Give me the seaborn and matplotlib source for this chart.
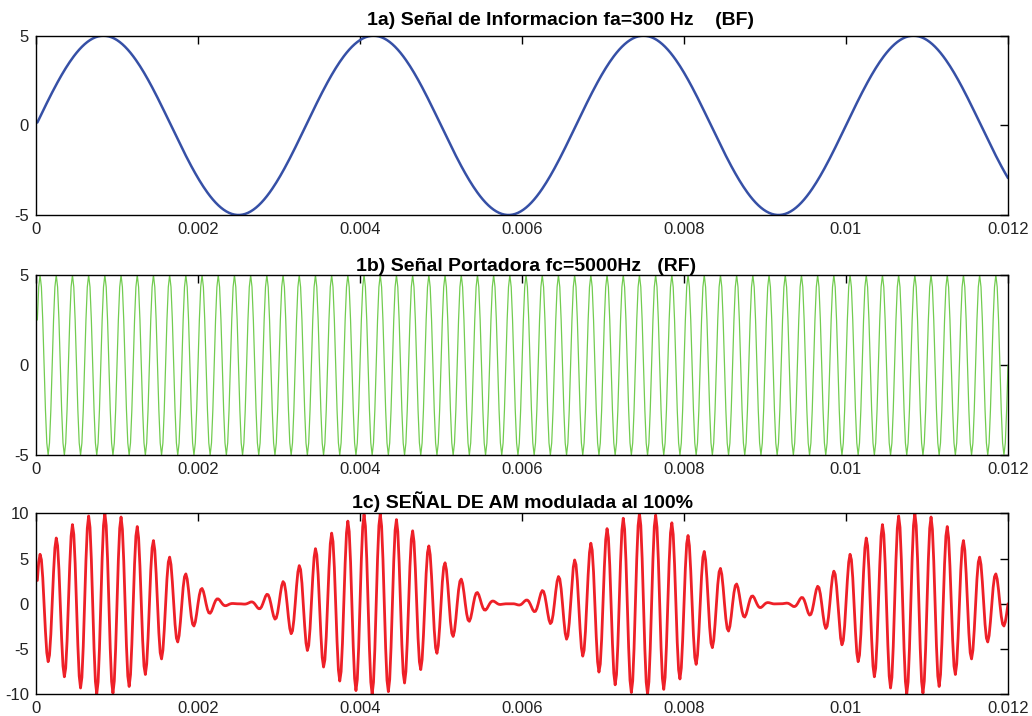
import numpy as np
import pandas as pd
import seaborn as sns
import matplotlib.pyplot as plt

fa = 300          # Hz, information signal (BF)
fc = 5000         # Hz, carrier (RF)
amp_info = 5      # amplitude of information signal
amp_carrier = 5   # amplitude of carrier
fs = 60000        # sampling rate of the plotted vectors
t_end = 0.012     # s

x_ticks = [0, 0.002, 0.004, 0.006, 0.008, 0.01, 0.012]
x_tick_labels = ["0", "0.002", "0.004", "0.006", "0.008", "0.01", "0.012"]
y_ticks_bf = [-5, 0, 5]
y_ticks_am = [-10, -5, 0, 5, 10]

titles = [
    "1a) Señal de Informacion fa=300 Hz    (BF)",
    "1b) Señal Portadora fc=5000Hz   (RF)",
    "1c) SEÑAL DE AM modulada al 100%",
]

# time vector and signals
t = np.arange(1, int(round(t_end * fs)) + 1) / fs
info = amp_info * np.sin(2 * np.pi * fa * t)
carrier = amp_carrier * np.sin(2 * np.pi * fc * t)
am = (amp_carrier + info) * np.sin(2 * np.pi * fc * t)

df = pd.DataFrame({"t": t, "info": info, "carrier": carrier, "am": am})

sns.set_style("white")
plt.rcParams['font.family'] = ['Liberation Sans', 'DejaVu Sans']
plt.rcParams['axes.unicode_minus'] = False

fig = plt.figure(figsize=(10.32, 7.16), dpi=100)
W, H = 1032, 716
left, right = 36, 1008
boxes = [(35.7, 215), (275, 455), (513.3, 694.3)]
axes = [fig.add_axes([left / W, 1 - b / H, (right - left) / W, (b - tp) / H]) for tp, b in boxes]

sns.lineplot(data=df, x="t", y="info", ax=axes[0], color="#3650A6", linewidth=1.8)
sns.lineplot(data=df, x="t", y="carrier", ax=axes[1], color="#72CC50", linewidth=0.9)
sns.lineplot(data=df, x="t", y="am", ax=axes[2], color="#EE2028", linewidth=2.0)

ylims = [(-5, 5), (-5, 5), (-10, 10)]
yticks = [y_ticks_bf, y_ticks_bf, y_ticks_am]
title_x = [0.540, 0.504, 0.500]
title_pad = [8, 3, 4]

for ax, yl, yt, ttl, tx, pad in zip(axes, ylims, yticks, titles, title_x, title_pad):
    ax.set_xlim(0, t_end)
    ax.set_ylim(*yl)
    ax.set_xticks(x_ticks)
    ax.set_xticklabels(x_tick_labels)
    ax.set_yticks(yt)
    ax.set_xlabel("")
    ax.set_ylabel("")
    ax.tick_params(direction="in", length=6, width=1, top=True, right=True,
                   labelsize=12, labelcolor="#222222", color="black", pad=5)
    for s in ax.spines.values():
        s.set_color("black")
        s.set_linewidth(1.0)
    ax.set_title(ttl, x=tx, fontsize=14, fontweight="bold", color="black", pad=pad)

fig.savefig("out.png", dpi=100, facecolor="white")
